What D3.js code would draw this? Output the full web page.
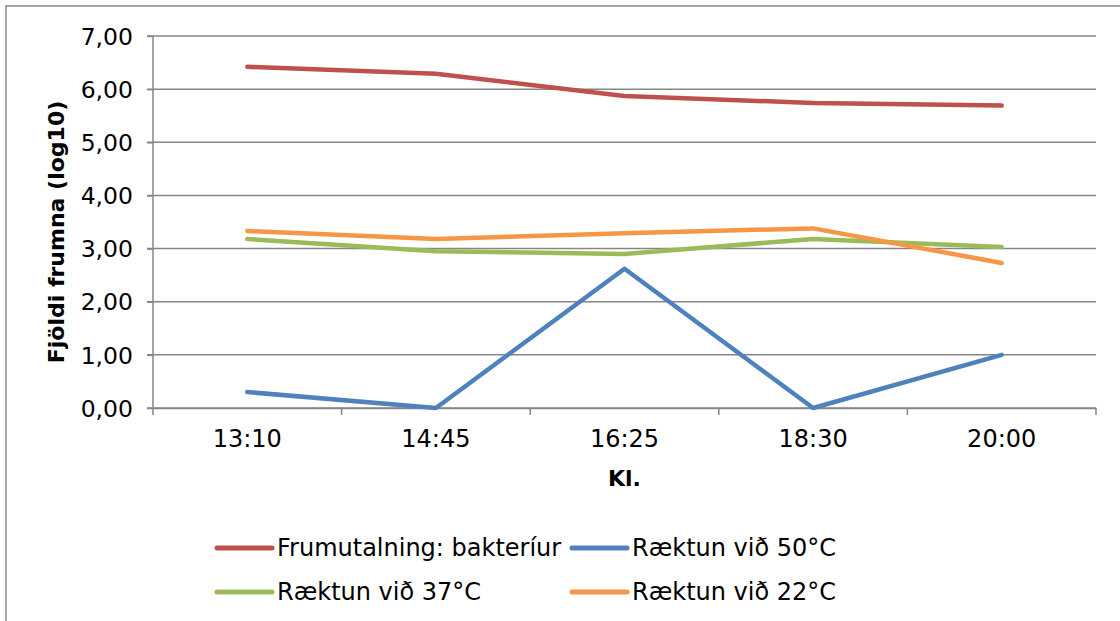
<!DOCTYPE html>
<html><head><meta charset="utf-8">
<script src="https://cdn.jsdelivr.net/npm/d3@7"></script>
<style>body{margin:0;background:#fff}svg{display:block}text{font-family:"DejaVu Sans",Verdana,sans-serif;fill:#000}</style>
</head><body>
<svg id="c" width="1120" height="621"></svg>
<script>
const categories = ["13:10","14:45","16:25","18:30","20:00"];
const seriesNames = ["Frumutalning: bakteríur","Ræktun við 50°C","Ræktun við 37°C","Ræktun við 22°C"];
const seriesColors = ["#C0504D","#4F81BD","#9BBB59","#F79646"];
const frumutalning = [6.42, 6.29, 5.87, 5.74, 5.69];
const raektun50 = [0.30, 0.00, 2.62, 0.00, 1.00];
const raektun37 = [3.18, 2.95, 2.90, 3.18, 3.03];
const raektun22 = [3.33, 3.18, 3.29, 3.38, 2.73];
const yTicks = [0,1,2,3,4,5,6,7];
const yTitle = "Fjöldi frumna (log10)";
const xTitle = "Kl.";

const series = [frumutalning, raektun50, raektun37, raektun22];
const svg = d3.select("#c");
svg.append("rect").attr("x",6).attr("y",6).attr("width",1130).attr("height",630)
  .attr("fill","none").attr("stroke","#8a8a8a").attr("stroke-width",1.5);

const L=153,R=1096,T=36,B=408;
const x = d3.scaleBand().domain(categories).range([L,R]);
const y = d3.scaleLinear().domain([0,7]).range([B,T]);
const fmt = v => d3.format(".2f")(v).replace(".",",");

const grid = svg.append("g");
grid.selectAll("line").data(yTicks).join("line")
  .attr("x1",L-6).attr("x2",R).attr("y1",d=>y(d)).attr("y2",d=>y(d))
  .attr("stroke","#868686").attr("stroke-width",1.5);

const ya = svg.append("g").attr("transform",`translate(${L},0)`)
  .call(d3.axisLeft(y).tickValues(yTicks).tickFormat(fmt).tickSize(6).tickPadding(14));
ya.select(".domain").attr("stroke","#868686").attr("stroke-width",1.5).attr("d",`M0,${B}V${T}`);
ya.selectAll(".tick line").attr("stroke","#868686").attr("stroke-width",1.5);
ya.selectAll(".tick text").attr("font-size",23.5).attr("fill","#000").attr("dy","0.35em")
  .attr("font-family","DejaVu Sans");

const xa = svg.append("g").attr("transform",`translate(0,${B})`)
  .call(d3.axisBottom(x).tickSize(0).tickPadding(22));
xa.select(".domain").attr("stroke","#868686").attr("stroke-width",1.5);
xa.selectAll(".tick text").attr("font-size",24).attr("fill","#000").attr("font-family","DejaVu Sans");
const bounds = d3.range(categories.length+1).map(i => L + i*x.bandwidth());
svg.append("g").selectAll("line").data(bounds).join("line")
  .attr("x1",d=>d).attr("x2",d=>d).attr("y1",B).attr("y2",B+7)
  .attr("stroke","#868686").attr("stroke-width",1.5);

const line = d3.line().x((d,i)=>x(categories[i])+x.bandwidth()/2).y(d=>y(d));
svg.append("g").selectAll("path").data(series).join("path")
  .attr("d",d=>line(d)).attr("fill","none")
  .attr("stroke",(d,i)=>seriesColors[i]).attr("stroke-width",4.5)
  .attr("stroke-linecap","round").attr("stroke-linejoin","round");

svg.append("text").attr("transform",`translate(64,232) rotate(-90)`)
  .attr("text-anchor","middle").attr("font-size",22).attr("font-weight","bold").text(yTitle);
svg.append("text").attr("x",(L+R)/2).attr("y",486).attr("text-anchor","middle")
  .attr("font-size",22).attr("font-weight","bold").text(xTitle);

const legPos = [[217,548],[572,548],[217,592],[572,592]];
const lg = svg.append("g").selectAll("g").data(seriesNames).join("g")
  .attr("transform",(d,i)=>`translate(${legPos[i][0]},${legPos[i][1]})`);
lg.append("line").attr("x1",0).attr("x2",55).attr("y1",0).attr("y2",0)
  .attr("stroke",(d,i)=>seriesColors[i]).attr("stroke-width",5).attr("stroke-linecap","round");
lg.append("text").attr("x",60).attr("dy","0.35em").attr("font-size",24).text(d=>d);
</script>
</body></html>
